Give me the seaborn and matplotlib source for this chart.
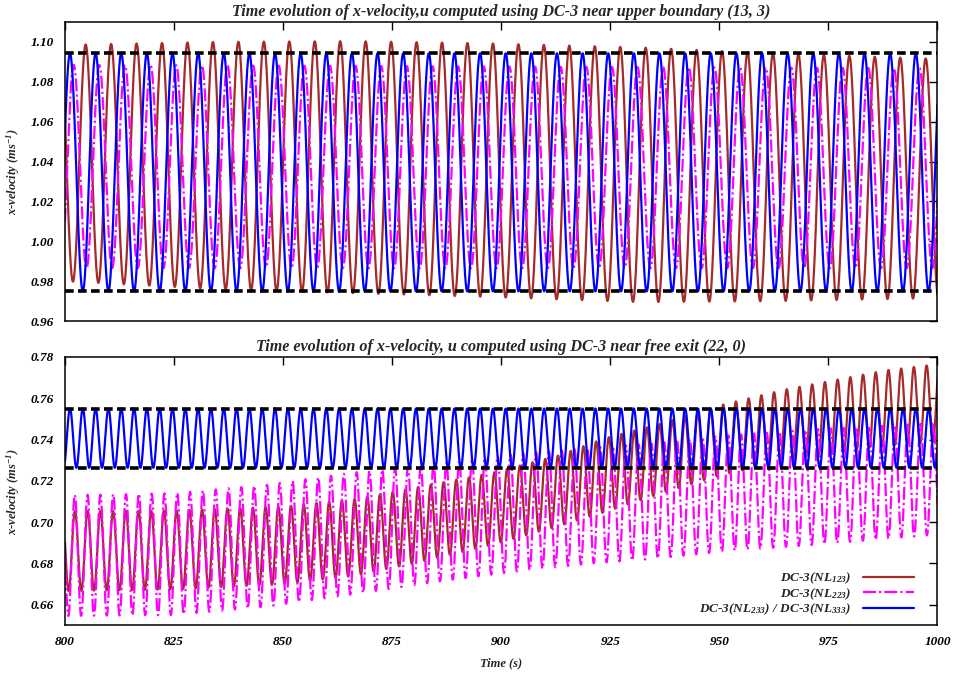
import numpy as np
import pandas as pd
import matplotlib
matplotlib.use("Agg")
import matplotlib.pyplot as plt
import seaborn as sns

# ---------------- time axis ----------------
t_start, t_end = 800.0, 1000.0
x_ticks = [800, 825, 850, 875, 900, 925, 950, 975, 1000]

# ---------------- probe near upper boundary (13, 3) ----------------
top_title = "Time evolution of x-velocity,u computed using DC-3 near upper boundary (13, 3)"
top_ylim = (0.96, 1.11)
top_y_ticks = [0.96, 0.98, 1.00, 1.02, 1.04, 1.06, 1.08, 1.10]
top_ref_band = [0.9749, 1.0943]

# NL123: first crest time (s), oscillation period (s), crest / trough envelope
top_nl123_first_peak, top_nl123_period = 804.74, 5.835
top_nl123_env_t = [800, 835, 866, 896, 932, 962, 1000]
top_nl123_upper = [1.0985, 1.1000, 1.1004, 1.0993, 1.0972, 1.0943, 1.0915]
top_nl123_lower = [0.9800, 0.9760, 0.9740, 0.9722, 0.9695, 0.9700, 0.9715]

top_nl223_first_peak, top_nl223_period = 802.00, 5.875
top_nl223_env_t = [800, 1000]
top_nl223_upper = [1.0885, 1.0868]
top_nl223_lower = [0.9865, 0.9865]

top_nl233_first_peak, top_nl233_period = 801.15, 5.875
top_nl233_env_t = [800, 1000]
top_nl233_upper = [1.0943, 1.0943]
top_nl233_lower = [0.9749, 0.9749]

# ---------------- probe near free exit (22, 0) ----------------
bot_title = "Time evolution of x-velocity, u computed using DC-3 near free exit (22, 0)"
bot_ylim = (0.65, 0.78)
bot_y_ticks = [0.66, 0.68, 0.70, 0.72, 0.74, 0.76, 0.78]
bot_ref_band = [0.7263, 0.7550]

bot_nl123_first_peak, bot_nl123_period = 802.29, 2.9136
bot_nl123_env_t = [800, 825, 850, 866, 880, 898, 913, 924, 936, 950, 965, 977, 988, 1000]
bot_nl123_upper = [0.7053, 0.7055, 0.7075, 0.7110, 0.7166, 0.7239, 0.7322, 0.7408,
                   0.7473, 0.7565, 0.7642, 0.7690, 0.7735, 0.7765]
bot_nl123_lower = [0.6666, 0.6674, 0.6700, 0.6739, 0.6800, 0.6890, 0.6980, 0.7050,
                   0.7135, 0.7225, 0.7300, 0.7340, 0.7370, 0.7390]

bot_nl223_first_peak, bot_nl223_period = 802.24, 2.9375
bot_nl223_env_t = [800, 825, 846, 866, 885, 903, 921, 934, 952, 972, 1000]
bot_nl223_upper = [0.713, 0.714, 0.718, 0.724, 0.728, 0.733, 0.736, 0.738, 0.742, 0.745, 0.748]
bot_nl223_lower = [0.6545, 0.6550, 0.6590, 0.6650, 0.6710, 0.6760, 0.6800, 0.6820,
                   0.6860, 0.6890, 0.6940]

bot_nl233_first_peak, bot_nl233_period = 801.15, 2.9375
bot_nl233_env_t = [800, 1000]
bot_nl233_upper = [0.7550, 0.7550]
bot_nl233_lower = [0.7263, 0.7263]

labels = ["DC-3(NL$_{123}$)", "DC-3(NL$_{223}$)", "DC-3(NL$_{233}$) / DC-3(NL$_{333}$)"]
colors = ["#a52a2a", "#ff00ff", "#0000ff"]


def waveform(t, first_peak, period, env_t, upper, lower):
    """Periodic signal oscillating between a crest and a trough envelope."""
    hi = np.interp(t, env_t, upper)
    lo = np.interp(t, env_t, lower)
    return 0.5 * (hi + lo) + 0.5 * (hi - lo) * np.cos(2 * np.pi * (t - first_peak) / period)


t = np.linspace(t_start, t_end, 12001)

top_series = [
    waveform(t, top_nl123_first_peak, top_nl123_period, top_nl123_env_t, top_nl123_upper, top_nl123_lower),
    waveform(t, top_nl223_first_peak, top_nl223_period, top_nl223_env_t, top_nl223_upper, top_nl223_lower),
    waveform(t, top_nl233_first_peak, top_nl233_period, top_nl233_env_t, top_nl233_upper, top_nl233_lower),
]
bot_series = [
    waveform(t, bot_nl123_first_peak, bot_nl123_period, bot_nl123_env_t, bot_nl123_upper, bot_nl123_lower),
    waveform(t, bot_nl223_first_peak, bot_nl223_period, bot_nl223_env_t, bot_nl223_upper, bot_nl223_lower),
    waveform(t, bot_nl233_first_peak, bot_nl233_period, bot_nl233_env_t, bot_nl233_upper, bot_nl233_lower),
]

# ---------------- style ----------------
sns.set_style("white")
plt.rcParams.update({
    "font.family": ["Liberation Serif", "DejaVu Serif"],
    "font.style": "italic",
    "font.weight": "bold",
    "axes.titleweight": "bold",
    "axes.labelweight": "bold",
    "mathtext.fontset": "custom",
    "mathtext.rm": "Liberation Serif:bold:italic",
    "mathtext.it": "Liberation Serif:bold:italic",
    "mathtext.bf": "Liberation Serif:bold:italic",
    "mathtext.default": "regular",
    "axes.edgecolor": "black",
    "axes.linewidth": 1.1,
})

fig = plt.figure(figsize=(9.54, 6.77), dpi=100)
ax_top = fig.add_axes([0.0681, 0.5258, 0.9146, 0.4417])
ax_bot = fig.add_axes([0.0681, 0.0764, 0.9146, 0.3963])

tick_fs = 9.5
dash_dot = (5.8, 1.4, 1.0, 1.4)


def draw_panel(ax, series, band, ylim, yticks, title, show_x):
    for y, col, lab, k in zip(series, colors, labels, range(3)):
        df = pd.DataFrame({"t": t, "u": y})
        sns.lineplot(data=df, x="t", y="u", ax=ax, color=col, lw=1.6,
                     estimator=None, sort=False, label=lab, legend=False)
        if k == 1:
            ax.lines[-1].set_dashes(dash_dot)
    for level in band:
        sns.lineplot(x=[t_start, t_end], y=[level, level], ax=ax, color="black",
                     lw=2.6, estimator=None, legend=False)
        ax.lines[-1].set_dashes((2.4, 1.2))
    ax.set_xlim(t_start, t_end)
    ax.set_ylim(*ylim)
    ax.set_xticks(x_ticks)
    ax.set_yticks(yticks)
    ax.set_yticklabels([f"{v:.2f}" for v in yticks], fontsize=tick_fs)
    if show_x:
        ax.set_xticklabels([str(v) for v in x_ticks], fontsize=tick_fs)
        ax.set_xlabel("Time (s)", fontsize=9, fontweight="bold", fontstyle="italic")
        ax.xaxis.set_label_coords(0.5, -0.118)
    else:
        ax.set_xticklabels([])
        ax.set_xlabel("")
    ax.tick_params(direction="in", length=6, width=1, top=True, right=True, pad=8,
                   colors="black")
    ax.set_ylabel("x-velocity (ms$^{-1}$)", fontsize=9, fontweight="bold", fontstyle="italic")
    ax.yaxis.set_label_coords(-0.049, 0.5)
    ax.set_title(title, fontsize=11.6, pad=4, fontweight="bold", fontstyle="italic")
    for s in ax.spines.values():
        s.set_visible(True)
        s.set_color("black")


draw_panel(ax_top, top_series, top_ref_band, top_ylim, top_y_ticks, top_title, False)
draw_panel(ax_bot, bot_series, bot_ref_band, bot_ylim, bot_y_ticks, bot_title, True)

handles = ax_bot.lines[:3]
ax_bot.legend(handles, labels, loc="lower right", bbox_to_anchor=(0.9735, 0.03),
              frameon=False, markerfirst=False, handlelength=3.9, handletextpad=0.9,
              labelspacing=0.0, borderpad=0, borderaxespad=0, fontsize=9.5)

fig.savefig("out.png", dpi=100)
